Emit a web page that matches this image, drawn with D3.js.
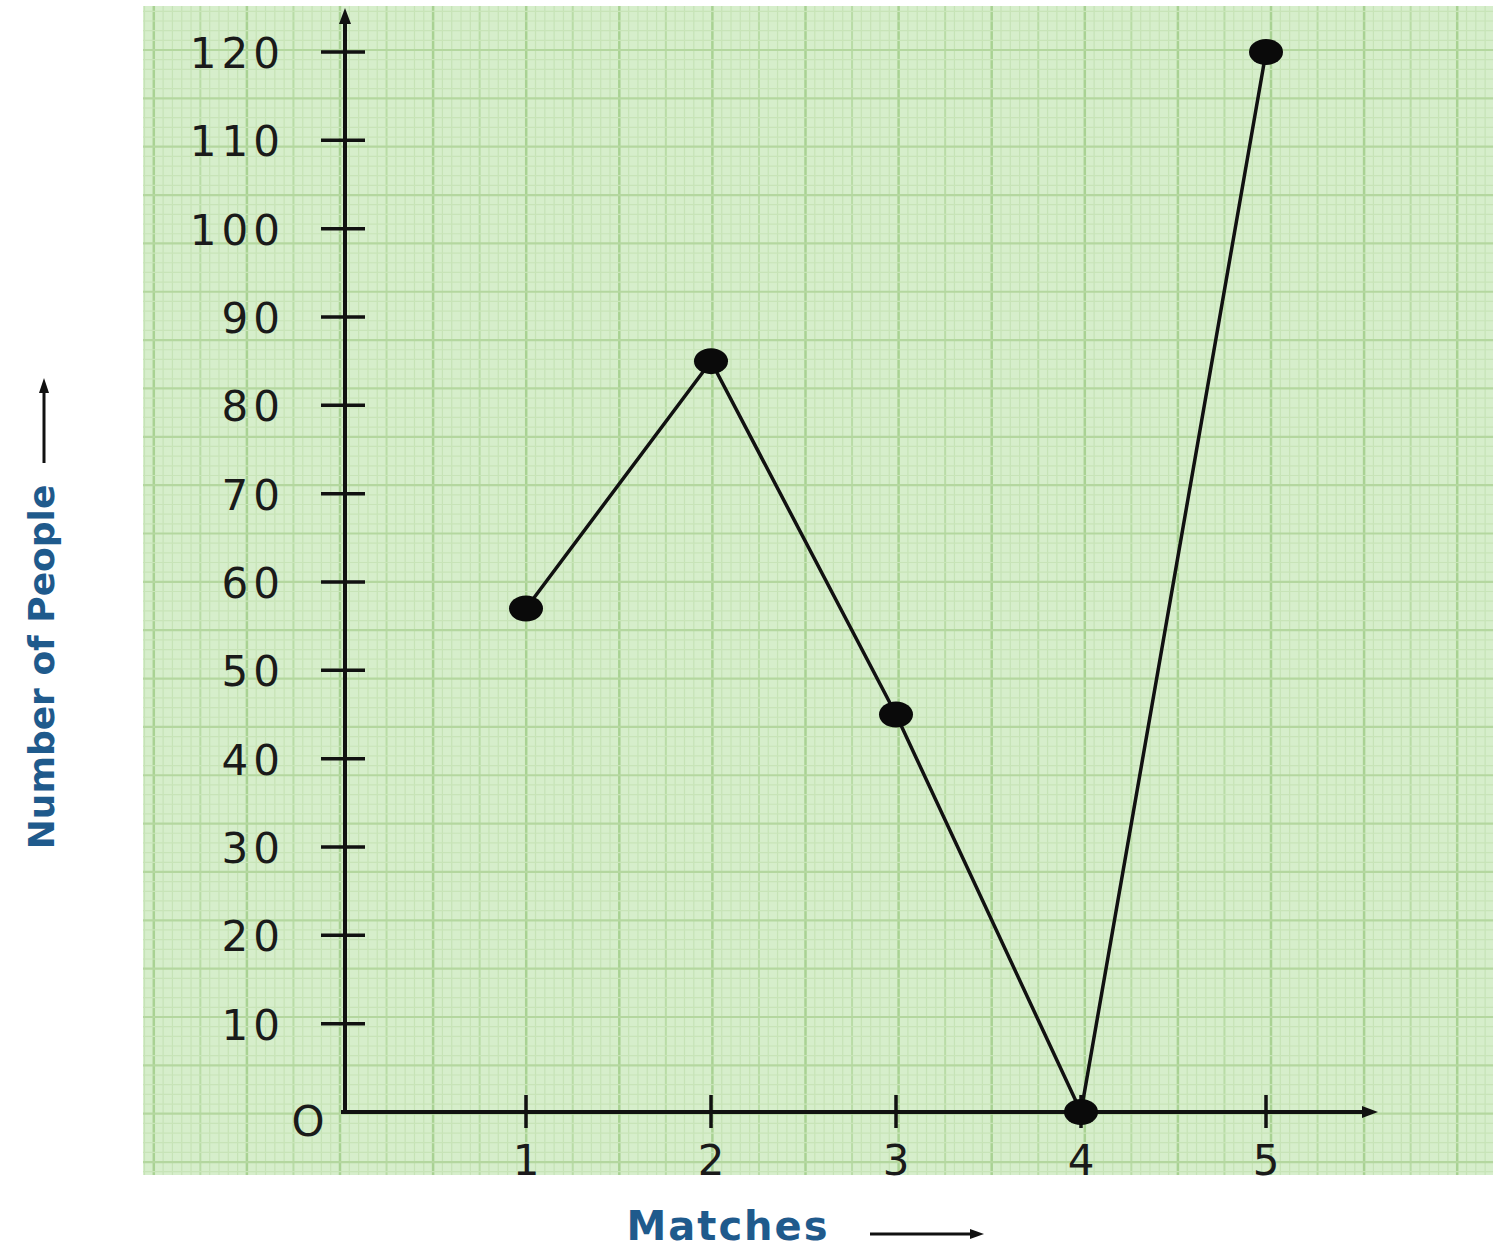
<!DOCTYPE html>
<html><head><meta charset="utf-8">
<script src="https://cdn.jsdelivr.net/npm/d3@7"></script>
<style>body{margin:0;background:#fff}svg{display:block}</style>
</head><body>
<script>
const matches = [1, 2, 3, 4, 5];
const people = [57, 85, 45, 0, 120];
const yTicks = [10, 20, 30, 40, 50, 60, 70, 80, 90, 100, 110, 120];
const xTicks = [1, 2, 3, 4, 5];
const xTitle = "Matches";
const yTitle = "Number of People";

const W = 1493, H = 1248;
const svg = d3.select("body").append("svg").attr("width", W).attr("height", H);

// graph paper
const paper = {x0: 143, y0: 6, x1: 1493, y1: 1175};
svg.append("rect").attr("x", paper.x0).attr("y", paper.y0)
  .attr("width", paper.x1 - paper.x0).attr("height", paper.y1 - paper.y0)
  .attr("fill", "#d6eecb");
const gp = svg.append("g");
const vStep = 93.1 / 10, hStep = 48.35 / 5;
for (let i = -60; i < 200; i++) {
  const x = 340 + i * vStep;
  if (x < paper.x0 || x > paper.x1) continue;
  const major = i % 10 === 0, mid = i % 5 === 0;
  gp.append("line").attr("x1", x).attr("x2", x).attr("y1", paper.y0).attr("y2", paper.y1)
    .attr("stroke", major ? "#a9d293" : mid ? "#b9dca6" : "#c6e3b6")
    .attr("stroke-width", major ? 2.5 : mid ? 2 : 1.2);
}
for (let i = -10; i < 200; i++) {
  const y = 50 + i * hStep;
  if (y < paper.y0 || y > paper.y1) continue;
  const mid = i % 5 === 0;
  gp.append("line").attr("y1", y).attr("y2", y).attr("x1", paper.x0).attr("x2", paper.x1)
    .attr("stroke", mid ? "#b4d79f" : "#c8e4b8")
    .attr("stroke-width", mid ? 2.2 : 1.2);
}

// scales
const x = d3.scaleLinear().domain([0, 5]).range([341, 1266]);
const y = d3.scaleLinear().domain([0, 120]).range([1112, 52]);

const ink = "#111";
// axes lines
svg.append("line").attr("x1", x(0)).attr("x2", 1372).attr("y1", y(0)).attr("y2", y(0))
  .attr("stroke", ink).attr("stroke-width", 4);
svg.append("line").attr("x1", x(0) + 4).attr("x2", x(0) + 4).attr("y1", y(0) + 2).attr("y2", 14)
  .attr("stroke", ink).attr("stroke-width", 4);
// arrowheads
svg.append("path").attr("d", `M1378,${y(0)} L1362,${y(0)-6} L1362,${y(0)+6} Z`).attr("fill", ink);
svg.append("path").attr("d", `M${x(0)+4},8 L${x(0)-2},24 L${x(0)+10},24 Z`).attr("fill", ink);

const tickFont = "DejaVu Sans, Verdana, sans-serif";
// y ticks
const yAxisX = x(0) + 4;
svg.append("g").selectAll("line").data(yTicks).join("line")
  .attr("x1", yAxisX - 24).attr("x2", yAxisX + 20)
  .attr("y1", d => y(d)).attr("y2", d => y(d))
  .attr("stroke", ink).attr("stroke-width", 3.5);
svg.append("g").selectAll("text").data(yTicks).join("text")
  .attr("x", 285).attr("y", d => y(d) + 16)
  .attr("text-anchor", "end")
  .attr("font-family", tickFont).attr("font-size", 42)
  .attr("letter-spacing", 5)
  .attr("fill", "#1a1a1a").text(d => d);

// x ticks
svg.append("g").selectAll("line").data(xTicks).join("line")
  .attr("x1", d => x(d)).attr("x2", d => x(d))
  .attr("y1", y(0) - 17).attr("y2", y(0) + 16)
  .attr("stroke", ink).attr("stroke-width", 3.5);
svg.append("g").selectAll("text").data(xTicks).join("text")
  .attr("x", d => x(d)).attr("y", 1175)
  .attr("text-anchor", "middle")
  .attr("font-family", tickFont).attr("font-size", 42)
  .attr("fill", "#1a1a1a").text(d => d);

// origin label
svg.append("text").attr("x", 308).attr("y", 1136).attr("text-anchor", "middle")
  .attr("font-family", tickFont).attr("font-size", 42)
  .attr("fill", "#1a1a1a").text("O");

// data line
const pts = matches.map((m, i) => [m, people[i]]);
svg.append("path").datum(pts)
  .attr("d", d3.line().x(d => x(d[0])).y(d => y(d[1])))
  .attr("fill", "none").attr("stroke", ink).attr("stroke-width", 3.5);
svg.append("g").selectAll("ellipse").data(pts).join("ellipse")
  .attr("cx", d => x(d[0])).attr("cy", d => y(d[1]))
  .attr("rx", 17).attr("ry", 13).attr("fill", "#0a0a0a");

// titles
const blue = "#1f5a8c";
svg.append("text").attr("x", 728).attr("y", 1240).attr("text-anchor", "middle")
  .attr("font-family", "DejaVu Sans, Verdana, sans-serif").attr("font-weight", "bold")
  .attr("font-size", 40).attr("letter-spacing", 2).attr("fill", blue).text(xTitle);
svg.append("line").attr("x1", 870).attr("x2", 975).attr("y1", 1234).attr("y2", 1234)
  .attr("stroke", ink).attr("stroke-width", 3);
svg.append("path").attr("d", "M984,1234 L970,1229 L970,1239 Z").attr("fill", ink);

svg.append("text").attr("transform", "translate(54,667) rotate(-90)")
  .attr("text-anchor", "middle")
  .attr("font-family", "DejaVu Sans, Verdana, sans-serif").attr("font-weight", "bold")
  .attr("font-size", 36).attr("fill", blue).text(yTitle);
svg.append("line").attr("x1", 44).attr("x2", 44).attr("y1", 463).attr("y2", 388)
  .attr("stroke", ink).attr("stroke-width", 3);
svg.append("path").attr("d", "M44,378 L39,393 L49,393 Z").attr("fill", ink);
</script>
</body></html>
